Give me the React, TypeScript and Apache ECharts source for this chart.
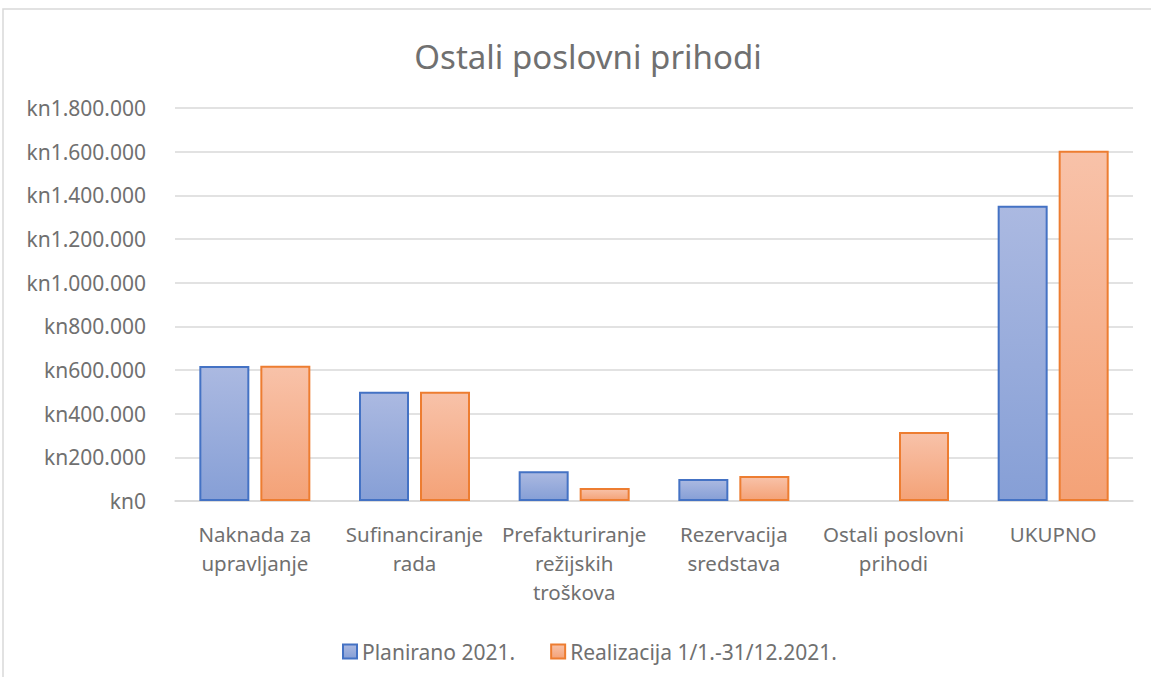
import React, { useEffect, useRef } from "react";
import * as echarts from "echarts";

const categories = [
  "Naknada za\nupravljanje",
  "Sufinanciranje\nrada",
  "Prefakturiranje\nrežijskih\ntroškova",
  "Rezervacija\nsredstava",
  "Ostali poslovni\nprihodi",
  "UKUPNO",
];
const planirano: (number | null)[] = [618000, 500000, 136000, 101000, null, 1352000];
const realizacija: (number | null)[] = [619000, 500000, 60000, 114000, 316000, 1604000];
const seriesNames = ["Planirano 2021.", "Realizacija 1/1.-31/12.2021."];
const yMin = 0;
const yMax = 1800000;
const yStep = 200000;

const FONT = "'Noto Sans', 'Open Sans', sans-serif";
const TEXT = "#707070";

function fmt(v: number): string {
  const s = Math.round(v).toString().replace(/\B(?=(\d{3})+(?!\d))/g, ".");
  return "kn" + s;
}

export default function App() {
  const ref = useRef<HTMLDivElement>(null);
  useEffect(() => {
    if (!ref.current) return;
    const chart = echarts.init(ref.current, null, { renderer: "svg" });
    const grad = (top: string, bottom: string) =>
      new echarts.graphic.LinearGradient(0, 0, 0, 1, [
        { offset: 0, color: top },
        { offset: 1, color: bottom },
      ]);
    chart.setOption({
      animation: false,
      backgroundColor: "#ffffff",
      graphic: [
        {
          type: "rect",
          shape: { x: 3, y: 9, width: 1200, height: 700 },
          style: { fill: "none", stroke: "#d9d9d9", lineWidth: 1.5 },
          silent: true,
        },
      ],
      title: {
        text: "Ostali poslovni prihodi",
        left: 583,
        textAlign: "center",
        top: 35,
        textStyle: {
          fontFamily: FONT,
          fontSize: 33,
          fontWeight: "normal",
          color: TEXT,
        },
      },
      legend: {
        left: 337,
        top: 636,
        itemWidth: 14,
        itemHeight: 14,
        itemGap: 35,
        icon: "rect",
        textStyle: { fontFamily: FONT, fontSize: 21, color: TEXT },
        data: seriesNames,
      },
      grid: { left: 175, right: 18, top: 108, bottom: 176, containLabel: false },
      xAxis: {
        type: "category",
        data: categories,
        axisLine: { lineStyle: { color: "#d9d9d9", width: 1.5 } },
        axisTick: { show: false },
        axisLabel: {
          fontFamily: FONT,
          fontSize: 20.5,
          lineHeight: 29,
          color: TEXT,
          margin: 18,
          interval: 0,
        },
      },
      yAxis: {
        type: "value",
        min: yMin,
        max: yMax,
        interval: yStep,
        axisLine: { show: false },
        axisTick: { show: false },
        splitLine: { lineStyle: { color: "#d9d9d9", width: 1.5 } },
        axisLabel: {
          fontFamily: FONT,
          fontSize: 21,
          color: TEXT,
          margin: 29,
          formatter: (v: number) => fmt(v),
        },
      },
      series: [
        {
          name: seriesNames[0],
          type: "bar",
          data: planirano,
          barWidth: 50,
          barGap: "22%",
          itemStyle: {
            color: grad("#abb9e1", "#869fd6"),
            borderColor: "#4472c4",
            borderWidth: 2,
          },
        },
        {
          name: seriesNames[1],
          type: "bar",
          data: realizacija,
          barWidth: 50,
          barGap: "22%",
          itemStyle: {
            color: grad("#f8c2a9", "#f4a277"),
            borderColor: "#ed7d31",
            borderWidth: 2,
          },
        },
      ],
    });
    return () => chart.dispose();
  }, []);
  return (
    <div
      ref={ref}
      style={{
        position: "absolute",
        left: 0,
        top: 0,
        width: 1151,
        height: 677,
        background: "#ffffff",
      }}
    />
  );
}
